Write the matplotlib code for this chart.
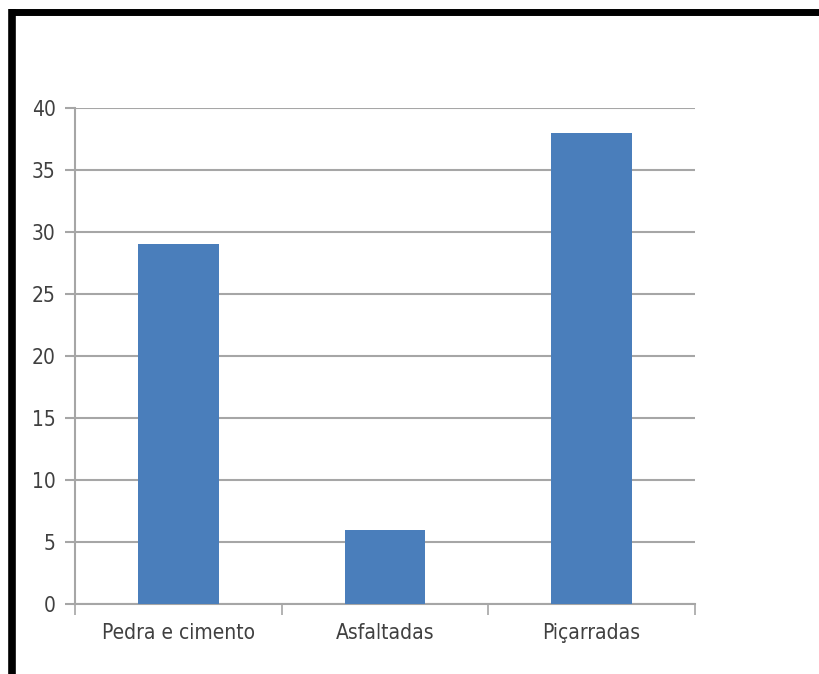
import matplotlib
matplotlib.use("Agg")
import matplotlib.pyplot as plt
from matplotlib.lines import Line2D
import numpy as np

categories = ["Pedra e cimento", "Asfaltadas", "Piçarradas"]
values = [29, 6, 38]
y_ticks = [0, 5, 10, 15, 20, 25, 30, 35, 40]

W, H = 820, 674
fig = plt.figure(figsize=(W / 100, H / 100), dpi=100)
fig.patch.set_facecolor("white")

# axes box measured in pixels from the reference
left, right, top, bottom = 75, 695, 108, 604
ax = fig.add_axes([left / W, 1 - bottom / H, (right - left) / W, (bottom - top) / H])

font = dict(family="DejaVu Sans", stretch="condensed", fontsize=15, color="#404040")
grid_c = "#a6a6a6"

x = np.arange(len(categories))
ax.bar(x, values, width=0.39, color="#4a7ebb", zorder=3)

ax.set_xlim(-0.5, len(categories) - 0.5)
ax.set_ylim(0, 40)
ax.set_yticks(y_ticks)
ax.set_yticklabels([str(t) for t in y_ticks], **font)
ax.yaxis.grid(True, color=grid_c, linewidth=1.5, zorder=0)

ax.set_xticks(x)
ax.set_xticklabels(categories, **font)
ax.tick_params(axis="x", which="major", length=0, pad=14)
ax.set_xticks(np.arange(len(categories) + 1) - 0.5, minor=True)
ax.tick_params(axis="x", which="minor", length=8, color=grid_c, width=1.2)
ax.tick_params(axis="y", length=7, color=grid_c, width=1.5, pad=7)

for s in ["top", "right"]:
    ax.spines[s].set_visible(False)
for s in ["left", "bottom"]:
    ax.spines[s].set_color(grid_c)
    ax.spines[s].set_linewidth(1.5)

# black frame on the left and top edges of the screenshot
fig.add_artist(Line2D([12.5 / W, 12.5 / W], [0, 1 - 9 / H], color="black",
                      linewidth=5.5, solid_capstyle="butt"))
fig.add_artist(Line2D([9 / W, 1], [1 - 12 / H, 1 - 12 / H], color="black",
                      linewidth=5.0, solid_capstyle="butt"))

fig.savefig("out.png", dpi=100)
